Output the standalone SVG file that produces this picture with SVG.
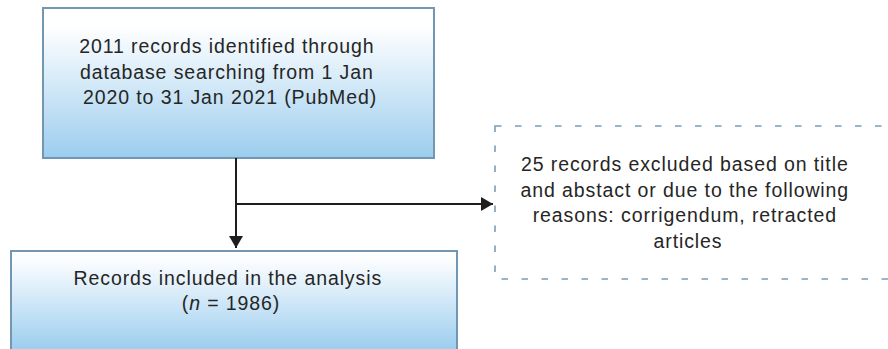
<svg xmlns="http://www.w3.org/2000/svg" width="888" height="349" viewBox="0 0 888 349">
  <defs>
    <linearGradient id="fillTop" gradientUnits="userSpaceOnUse" x1="0" y1="8" x2="0" y2="158">
      <stop offset="0" stop-color="#ffffff"/>
      <stop offset="0.14" stop-color="#fdfeff"/>
      <stop offset="1" stop-color="#9ccdee"/>
    </linearGradient>
    <linearGradient id="fillBottom" gradientUnits="userSpaceOnUse" x1="0" y1="251" x2="0" y2="349">
      <stop offset="0" stop-color="#ffffff"/>
      <stop offset="0.1" stop-color="#fbfdff"/>
      <stop offset="1" stop-color="#9dceef"/>
    </linearGradient>
    <marker id="arrow" viewBox="0 0 12 14" refX="12" refY="7" markerWidth="12" markerHeight="14" markerUnits="userSpaceOnUse" orient="auto">
      <path d="M0,0 L12,7 L0,14 Z" fill="#1e1e1e"/>
    </marker>
  </defs>
  <style>
    .box { stroke: #7396b3; stroke-width: 2; }
    .dashed { fill: none; stroke: #7b9db6; stroke-width: 1.6; stroke-dasharray: 6.5 13.5; }
    .label { font-family: "Liberation Sans", Arial, sans-serif; font-size: 19.5px; letter-spacing: 0.9px; fill: #262626; text-anchor: middle; }
    .link { fill: none; stroke: #1e1e1e; stroke-width: 2; }
  </style>

  <rect width="888" height="349" fill="#ffffff"/>

  <g id="identified">
    <rect class="box" x="43" y="8" width="391" height="150" fill="url(#fillTop)"/>
    <text class="label">
      <tspan x="230" y="53">2011 records identified through</tspan>
      <tspan x="230" y="78.5">database searching from 1 Jan</tspan>
      <tspan x="230" y="104">2020 to 31 Jan 2021 (PubMed)</tspan>
    </text>
  </g>

  <g id="excluded">
    <rect class="dashed" x="495" y="126" width="420" height="153"/>
    <text class="label">
      <tspan x="688" y="171">25 records excluded based on title</tspan>
      <tspan x="688" y="196.5">and abstact or due to the following</tspan>
      <tspan x="688" y="222">reasons: corrigendum, retracted</tspan>
      <tspan x="688" y="247.5">articles</tspan>
    </text>
  </g>

  <g id="included">
    <rect class="box" x="11" y="251" width="446" height="115" fill="url(#fillBottom)"/>
    <text class="label">
      <tspan x="231" y="285">Records included in the analysis</tspan>
      <tspan x="231" y="309.5">(<tspan font-style="italic">n</tspan> = 1986)</tspan>
    </text>
  </g>

  <g id="connectors">
    <path class="link" d="M236,158 V248" marker-end="url(#arrow)"/>
    <path class="link" d="M236,204 H493" marker-end="url(#arrow)"/>
  </g>
</svg>
